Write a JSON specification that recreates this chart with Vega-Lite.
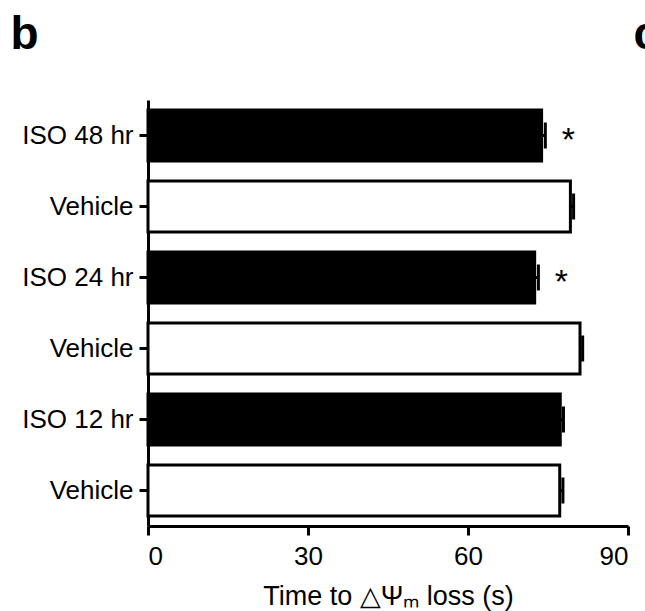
{
  "$schema": "https://vega.github.io/schema/vega-lite/v6.json",
  "width": 480,
  "height": 426,
  "autosize": "none",
  "padding": {"left": 148, "top": 100, "right": 17, "bottom": 85},
  "background": "white",
  "config": {"view": {"stroke": null}, "font": "Liberation Sans"},
  "data": {"values": [
    {"id": "ISO 48 hr", "group": "ISO", "mean": 73.8, "upper": 74.5, "sig": "*"},
    {"id": "Vehicle 48", "group": "Vehicle", "mean": 79.2, "upper": 79.8, "sig": ""},
    {"id": "ISO 24 hr", "group": "ISO", "mean": 72.5, "upper": 73.2, "sig": "*"},
    {"id": "Vehicle 24", "group": "Vehicle", "mean": 81.0, "upper": 81.5, "sig": ""},
    {"id": "ISO 12 hr", "group": "ISO", "mean": 77.3, "upper": 77.9, "sig": ""},
    {"id": "Vehicle 12", "group": "Vehicle", "mean": 77.2, "upper": 77.8, "sig": ""}
  ]},
  "resolve": {"axis": {"x": "independent"}},
  "encoding": {
    "y": {"field": "id", "type": "nominal", "sort": null,
      "scale": {"paddingInner": 0.28, "paddingOuter": 0.14},
      "axis": {"title": null, "labelExpr": "indexof(datum.value, 'Vehicle') === 0 ? 'Vehicle' : datum.value",
        "domainWidth": 3, "domainColor": "black", "tickWidth": 3, "tickSize": 9, "tickColor": "black",
        "labelFontSize": 26, "labelColor": "black", "labelPadding": 6, "labelFont": "Liberation Sans"}}
  },
  "layer": [
    {"mark": {"type": "rule", "stroke": "black", "strokeWidth": 3},
     "encoding": {"x": {"field": "mean", "type": "quantitative", "axis": null}, "x2": {"field": "upper"}}},
    {"mark": {"type": "bar", "stroke": "black", "strokeWidth": 3},
     "encoding": {
       "x": {"field": "mean", "type": "quantitative", "title": "Time to △Ψₘ loss (s)",
         "scale": {"domain": [0, 90], "nice": false, "zero": true},
         "axis": {"values": [0, 30, 60, 90], "grid": false, "domainWidth": 3, "domainColor": "black", "tickWidth": 3, "tickSize": 9, "tickColor": "black",
           "labelFontSize": 26, "labelColor": "black", "labelPadding": 8, "labelFont": "Liberation Sans",
           "titleFontSize": 27, "titleFontWeight": "normal", "titleColor": "black", "titlePadding": 14, "titleFont": "Liberation Sans"}},
       "fill": {"field": "group", "type": "nominal", "scale": {"domain": ["ISO", "Vehicle"], "range": ["black", "white"]}, "legend": null}
     }},
    {"mark": {"type": "tick", "color": "black", "opacity": 1, "thickness": 3, "size": 26},
     "encoding": {"x": {"field": "upper", "type": "quantitative", "title": "b",
         "axis": {"orient": "top", "domain": false, "ticks": false, "labels": false, "grid": false,
           "titleFontSize": 46, "titleFontWeight": "bold", "titleColor": "black", "titleFont": "Liberation Sans",
           "titleAlign": "left", "titleX": -138, "titleY": -52, "titleBaseline": "alphabetic"}}}},
    {"mark": {"type": "text", "dx": 23, "dy": 5, "fontSize": 34, "align": "center", "baseline": "middle", "color": "black", "font": "Liberation Sans"},
     "encoding": {
       "x": {"field": "upper", "type": "quantitative", "title": "c",
         "axis": {"orient": "top", "domain": false, "ticks": false, "labels": false, "grid": false,
           "titleFontSize": 46, "titleFontWeight": "bold", "titleColor": "black", "titleFont": "Liberation Sans",
           "titleAlign": "left", "titleX": 485, "titleY": -52, "titleBaseline": "alphabetic"}},
       "text": {"field": "sig"}}}
  ]
}
